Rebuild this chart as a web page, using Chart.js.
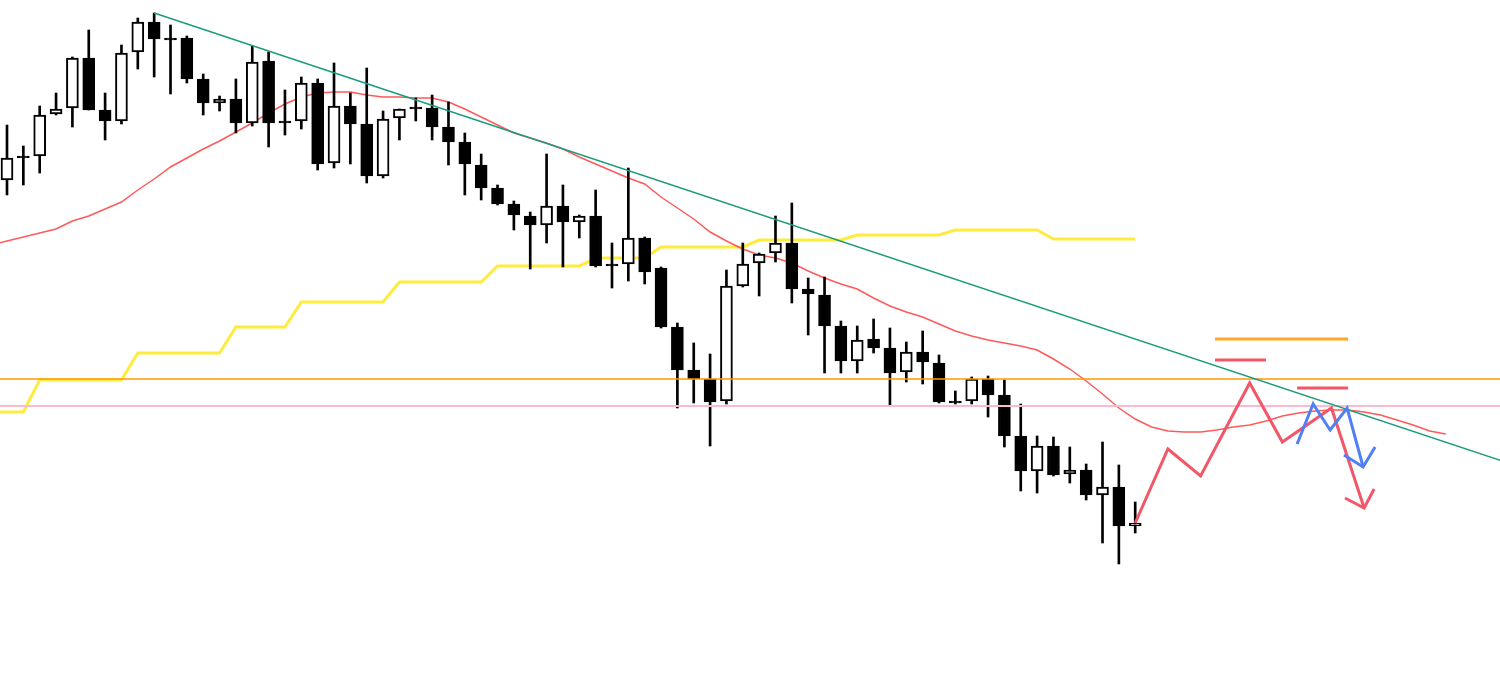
<!DOCTYPE html>
<html>
<head>
<meta charset="utf-8">
<title>Candles</title>
<script src="https://cdn.jsdelivr.net/npm/chart.js@4.4.1/dist/chart.umd.min.js"></script>
<style>
  html, body { margin: 0; padding: 0; background: #ffffff; }
  #wrap { width: 1500px; height: 675px; }
</style>
</head>
<body>
<div id="wrap"><canvas id="myChart" width="1500" height="675"></canvas></div>
<script>
// candles (price units)
const opens = [154.95,155.19,155.19,155.61,155.67,156.17,155.65,155.54,156.23,156.53,
  156.37,156.37,155.96,155.72,155.76,155.52,156.14,155.54,155.54,155.92,
  155.12,155.69,155.51,154.99,155.57,155.68,155.67,155.48,155.33,155.10,
  154.87,154.71,154.59,154.50,154.69,154.53,154.59,154.11,154.11,154.37,
  154.07,153.48,153.05,152.96,152.74,153.89,154.12,154.22,154.32,153.86,
  153.80,153.49,153.14,153.36,153.27,153.03,153.23,153.12,152.74,152.74,
  152.96,152.80,152.39,152.04,152.29,152.01,152.05,151.80,151.88,151.49];
const highs = [155.50,155.29,155.69,155.82,156.18,156.45,155.82,156.30,156.57,156.62,
  156.50,156.39,156.01,155.79,155.96,156.29,156.23,155.85,155.98,155.96,
  156.12,155.82,156.07,155.64,155.66,155.77,155.80,155.73,155.42,155.21,
  154.90,154.74,154.63,155.21,154.90,154.60,154.85,154.32,155.07,154.38,
  154.08,153.52,153.32,153.21,154.05,154.32,154.22,154.59,154.72,153.97,
  153.98,153.54,153.49,153.56,153.47,153.33,153.44,153.20,152.84,152.98,
  152.99,152.95,152.71,152.39,152.38,152.28,152.11,152.33,152.10,151.73];
const lows = [154.80,154.90,155.02,155.60,155.48,155.65,155.35,155.51,156.06,155.98,
  155.81,155.92,155.60,155.64,155.42,155.49,155.28,155.40,155.46,155.05,
  155.07,155.11,154.92,154.97,155.35,155.54,155.35,155.10,154.80,154.75,
  154.70,154.45,154.06,154.32,154.08,154.37,154.08,153.87,153.94,153.91,
  153.47,152.67,152.72,152.29,152.71,153.88,153.79,154.13,153.72,153.40,
  153.02,153.02,153.02,153.22,152.70,152.93,152.91,152.72,152.71,152.71,
  152.58,152.28,151.84,151.82,151.99,151.92,151.75,151.32,151.11,151.42];
const closes = [155.17,155.17,155.60,155.66,156.17,155.65,155.54,156.22,156.53,156.36,
  156.35,155.96,155.72,155.76,155.52,156.13,155.52,155.52,155.92,155.11,
  155.69,155.51,154.99,155.56,155.66,155.66,155.48,155.33,155.11,154.87,
  154.71,154.60,154.50,154.69,154.53,154.59,154.09,154.09,154.37,154.03,
  153.48,153.05,152.96,152.73,153.89,154.11,154.21,154.32,153.86,153.81,
  153.49,153.14,153.35,153.27,153.02,153.23,153.13,152.73,152.72,152.96,
  152.80,152.39,152.04,152.29,152.00,152.05,151.80,151.88,151.49,151.52];

// moving average, bars -1 .. 88
const maValues = [154.30,154.34,154.38,154.42,154.46,154.54,154.59,154.66,154.73,154.85,154.96,
  155.08,155.17,155.26,155.34,155.43,155.52,155.62,155.71,155.78,155.82,
  155.83,155.83,155.80,155.78,155.78,155.77,155.77,155.73,155.66,155.58,
  155.50,155.42,155.37,155.32,155.26,155.18,155.11,155.04,154.97,154.91,
  154.78,154.67,154.56,154.43,154.34,154.26,154.20,154.17,154.12,154.04,
  153.97,153.91,153.86,153.77,153.69,153.63,153.58,153.51,153.44,153.39,
  153.35,153.32,153.29,153.25,153.16,153.06,152.94,152.81,152.67,152.56,
  152.48,152.44,152.43,152.43,152.45,152.48,152.50,152.54,152.59,152.62,
  152.64,152.65,152.65,152.63,152.60,152.55,152.50,152.44,152.41];

// yellow step line, bars -1 .. 69
const baseLine = [152.63,152.63,152.63,152.95,152.95,152.95,152.95,152.95,152.95,
  153.22,153.22,153.22,153.22,153.22,153.22,153.48,153.48,153.48,153.48,
  153.73,153.73,153.73,153.73,153.73,153.73,153.93,153.93,153.93,153.93,153.93,153.93,
  154.09,154.09,154.09,154.09,154.09,154.09,154.17,154.17,154.17,154.17,
  154.28,154.28,154.28,154.28,154.28,154.28,154.35,154.35,154.35,154.35,154.35,154.35,
  154.40,154.40,154.40,154.40,154.40,154.40,154.45,154.45,154.45,154.45,154.45,154.45,
  154.36,154.36,154.36,154.36,154.36,154.36];

// drawings: [bar, price]
const trendPoints = [[9, 156.62], [92, 152.11]];
const resistLevel = 152.96;
const supportLevel = 152.69;
const scenarioRed = [[69,151.52],[71,152.26],[73,151.99],[76,152.92],[78,152.33],[81,152.67],[83,151.67]];
const redArrow = [[81.83,151.77],[83,151.67],[83.61,151.86]];
const scenarioBlue = [[78.9,152.31],[79.88,152.71],[80.92,152.45],[81.96,152.67],[82.94,152.08]];
const blueArrow = [[81.77,152.20],[82.94,152.08],[83.67,152.28]];
const zoneOrange = [[73.88,153.36],[82.02,153.36]];
const zoneRed1 = [[73.88,153.15],[77,153.15]];
const zoneRed2 = [[78.9,152.87],[82.02,152.87]];

const red = '#f25767';
const blue = '#4f80f5';

function pts(list) {
  return list.map(p => ({ x: p[0], y: p[1] }));
}
function drawLine(list, color, width, order) {
  return {
    type: 'line', data: pts(list), borderColor: color, borderWidth: width,
    pointRadius: 0, tension: 0, fill: false, order: order,
    borderJoinStyle: 'miter', borderCapStyle: 'butt'
  };
}

const wicks = [];
const bodies = [];
const bodyColors = [];
for (let i = 0; i < opens.length; i++) {
  wicks.push({ x: i, y: [lows[i], highs[i]] });
  bodies.push({ x: i, y: [opens[i], closes[i]] });
  bodyColors.push(closes[i] >= opens[i] ? '#ffffff' : '#000000');
}

const maData = maValues.map((v, k) => ({ x: k - 1, y: v }));
const baseData = baseLine.map((v, k) => ({ x: k - 1, y: v }));

const chartElement = document.getElementById('myChart');

new Chart(chartElement, {
  type: 'bar',
  data: {
    datasets: [
      drawLine(scenarioBlue, blue, 3, 0),
      drawLine(blueArrow, blue, 3, 0),
      drawLine(scenarioRed, red, 3, 0),
      drawLine(redArrow, red, 3, 0),
      drawLine(zoneOrange, '#ffa726', 3, 0),
      drawLine(zoneRed1, red, 3, 0),
      drawLine(zoneRed2, red, 3, 0),
      drawLine(trendPoints, '#1b9b7a', 1.5, 0),
      drawLine([[-2, resistLevel], [95, resistLevel]], '#ff9800', 1.5, 0),
      drawLine([[-2, supportLevel], [95, supportLevel]], '#f8bbd0', 2, 0),
      {
        type: 'bar', data: bodies, backgroundColor: bodyColors, borderColor: '#000000',
        borderWidth: 2, borderSkipped: false, barThickness: 12, grouped: false,
        minBarLength: 2, order: 1
      },
      {
        type: 'bar', data: wicks, backgroundColor: '#000000', borderWidth: 0,
        barThickness: 2, grouped: false, order: 2
      },
      {
        type: 'line', data: maData, borderColor: '#ff5a5a', borderWidth: 1.5,
        pointRadius: 0, tension: 0, fill: false, order: 3
      },
      {
        type: 'line', data: baseData, borderColor: '#ffeb3b', borderWidth: 3,
        pointRadius: 0, tension: 0, fill: false, order: 4
      }
    ]
  },
  options: {
    responsive: false,
    animation: false,
    layout: { padding: 0 },
    plugins: { legend: { display: false }, tooltip: { enabled: false } },
    scales: {
      x: { type: 'linear', display: false, offset: false, min: -0.428, max: 91.31 },
      y: { type: 'linear', display: false, min: 150.00, max: 156.75 }
    }
  }
});
</script>
</body>
</html>
